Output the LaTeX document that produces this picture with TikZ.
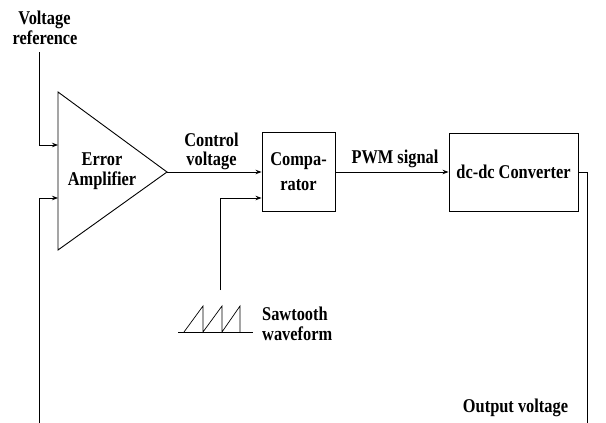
\documentclass[tikz,border=0pt]{standalone}
\usepackage{fontspec}
\setmainfont{Liberation Serif}
\newfontfamily\lblfont[FakeStretch=0.84]{Liberation Serif}
\usetikzlibrary{arrows.meta}
\begin{document}
\begin{tikzpicture}[x=1pt,y=-1pt,
  lbl/.style={font=\lblfont\fontsize{19.5}{17}\selectfont\bfseries, inner sep=0pt, anchor=base},
  wire/.style={line width=0.9pt},
  arr/.style={wire,-{Stealth[length=6pt,width=4.5pt]}},
  blk/.style={draw, line width=0.9pt, inner sep=0pt, font=\lblfont\fontsize{19.5}{25}\selectfont\bfseries, align=center}]
\useasboundingbox (0,0) rectangle (606,423);

% coordinates
\coordinate (vref) at (39,52);
\coordinate (fb) at (39,423);
\coordinate (ta) at (58,92);
\coordinate (tb) at (58,250);
\coordinate (tapex) at (167,172);
\coordinate (in1) at (58,145);
\coordinate (in2) at (58,198);
\coordinate (saw) at (220,290);
\coordinate (out) at (587,423);

% error amplifier
\draw[wire] (ta) -- (tapex) -- (tb) -- cycle;
\node[lbl] (ea1) at (102,165) {Error};
\node[lbl] (ea2) at (102,185) {Amplifier};

% blocks
\node[blk, minimum width=73pt, minimum height=79pt] (comp) at (298.5,172) {Compa-\\rator};
\node[blk, minimum width=129pt, minimum height=78pt] (conv) at (513.5,172) {dc-dc Converter};

% connectors
\draw[arr] (vref) |- (in1);
\draw[arr] (fb) |- (in2);
\draw[arr] (tapex) -- (comp.west);
\draw[arr] (saw) |- (comp.west |- 0,198);
\draw[arr] (comp.east) -- (conv.west);
\draw[wire] (conv.east) -| (out);

% sawtooth
\draw[wire] (178,332) -- (253,332);
\draw[line width=0.7pt] (184,332) -- (203,306) -- (203,332) -- (222,306) -- (222,332) -- (240,306) -- (240,332);

% labels
\node[lbl] (v1) at (44.5,24) {Voltage};
\node[lbl] (v2) at (45,45) {reference};
\node[lbl] (c1) at (211.5,146) {Control};
\node[lbl] (c2) at (211.5,165) {voltage};
\node[lbl] (pwm) at (395,163) {PWM signal};
\node[lbl, anchor=base west] (s1) at (262,320) {Sawtooth};
\node[lbl, anchor=base west] (s2) at (262,340) {waveform};
\node[lbl] (ov) at (515.5,412) {Output voltage};
\end{tikzpicture}
\end{document}
